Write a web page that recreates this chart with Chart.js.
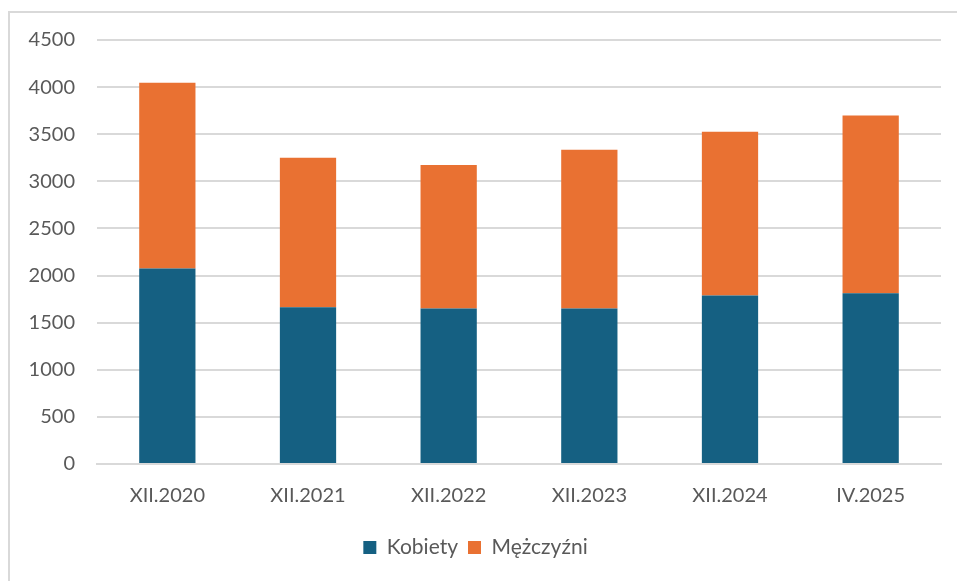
<!DOCTYPE html>
<html>
<head>
<meta charset="utf-8">
<script src="https://cdn.jsdelivr.net/npm/chart.js@4"></script>
<style>
  html, body { margin: 0; padding: 0; background: #fff; }
  #wrap { position: relative; width: 957px; height: 581px; overflow: hidden; }
  #frame { position: absolute; left: 8px; top: 11px; width: 1000px; height: 600px;
           border-left: 2px solid #D9D9D9; border-top: 2px solid #D9D9D9; }
  canvas { position: absolute; left: 0; top: 0; }
</style>
</head>
<body>
<div id="wrap">
  <div id="frame"></div>
  <canvas id="myChart" width="957" height="581"></canvas>
</div>
<script>
// okresy
var okresy = ['XII.2020', 'XII.2021', 'XII.2022', 'XII.2023', 'XII.2024', 'IV.2025'];
// wartości
var kobiety = [2075, 1664, 1650, 1650, 1788, 1813];
var mezczyzni = [1970, 1587, 1523, 1686, 1739, 1887];

var font_name = 'Lato, "Open Sans", sans-serif';
var txt_color = '#595959';

const data = {
  labels: okresy,
  datasets: [{
    label: 'Kobiety',
    backgroundColor: '#156082',
    borderColor: '#156082',
    data: kobiety,
  }, {
    label: 'Mężczyźni',
    backgroundColor: '#E97132',
    borderColor: '#E97132',
    data: mezczyzni,
  }]
};

const config = {
  type: 'bar',
  data: data,
  options: {
    responsive: false,
    animation: false,
    layout: { padding: { left: 10, right: 16, top: 40, bottom: 13 } },
    datasets: { bar: { categoryPercentage: 0.4, barPercentage: 1.0 } },
    plugins: {
      tooltip: { enabled: false },
      legend: {
        position: 'bottom',
        labels: {
          color: txt_color,
          font: { family: font_name, size: 21 },
          boxWidth: 13,
          boxHeight: 13,
          padding: 10
        }
      }
    },
    scales: {
      x: {
        stacked: true,
        grid: { display: false },
        border: { display: true, color: '#D9D9D9', width: 2 },
        ticks: { color: txt_color, font: { family: font_name, size: 20 }, padding: 12 },
        afterFit: function (s) { s.height = 63; }
      },
      y: {
        stacked: true,
        min: 0,
        max: 4500,
        grid: { color: '#D9D9D9', lineWidth: 2, drawTicks: false },
        border: { display: false },
        ticks: {
          stepSize: 500,
          color: txt_color,
          font: { family: font_name, size: 20 },
          padding: 22,
          callback: function (v) { return String(v); }
        },
        afterFit: function (s) { s.width = 87; }
      }
    }
  }
};

const myChart = new Chart(document.getElementById('myChart'), config);
</script>
</body>
</html>
